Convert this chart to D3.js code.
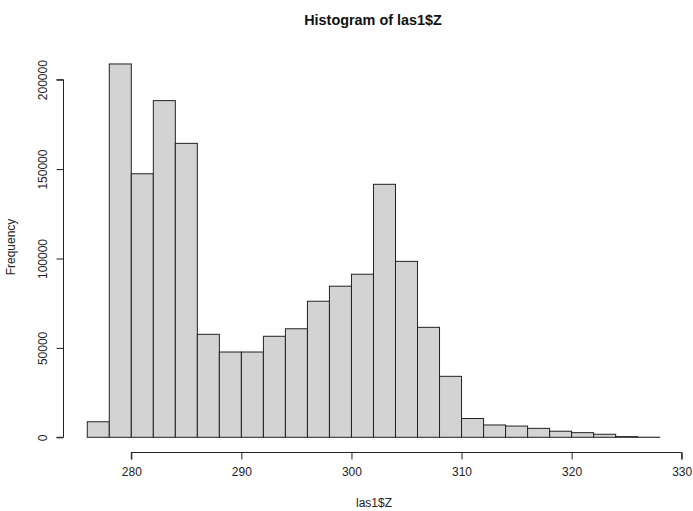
<!DOCTYPE html>
<html>
<head>
<meta charset="utf-8">
<script src="https://cdn.jsdelivr.net/npm/d3@7"></script>
<style>
  body { margin: 0; background: #fff; }
  text { font-family: "Liberation Sans", Arial, sans-serif; fill: #222; }
</style>
</head>
<body>
<svg id="chart" width="693" height="511"></svg>
<script>
var breaks = [276, 278, 280, 282, 284, 286, 288, 290, 292, 294, 296, 298, 300, 302,
  304, 306, 308, 310, 312, 314, 316, 318, 320, 322, 324, 326, 328];
var counts = [8700, 208800, 147400, 188300, 164400, 57600, 47700, 47700, 56500, 60700,
  76100, 84500, 91200, 141500, 98400, 61500, 34100, 10500, 6900, 6300, 5000, 3400,
  2600, 1700, 400, 60];
var xTicks = [280, 290, 300, 310, 320, 330];
var yTicks = [0, 50000, 100000, 150000, 200000];
var titleText = "Histogram of las1$Z";
var xLabel = "las1$Z";
var yLabel = "Frequency";

var svg = d3.select("#chart");
var x = d3.scaleLinear().domain([280, 330]).range([131.3, 681.7]);
var y = d3.scaleLinear().domain([0, 200000]).range([437.3, 79.7]);

// bars
svg.append("g").selectAll("rect")
  .data(counts)
  .enter().append("rect")
  .attr("x", function(d, i) { return x(breaks[i]); })
  .attr("y", function(d) { return y(d); })
  .attr("width", function(d, i) { return x(breaks[i + 1]) - x(breaks[i]); })
  .attr("height", function(d) { return y(0) - y(d); })
  .attr("fill", "#D3D3D3").attr("stroke", "#222").attr("stroke-width", 1);

// x axis
var xAxis = svg.append("g").attr("transform", "translate(0,452.5)")
  .call(d3.axisBottom(x).tickValues(xTicks).tickSize(7).tickPadding(8).tickFormat(d3.format("d")));
xAxis.select(".domain").attr("stroke", "#222").attr("d", "M" + x(280) + ",7V0H" + x(330) + "V7");
xAxis.selectAll(".tick line").attr("stroke", "#222");
xAxis.selectAll(".tick text").attr("font-size", 12).attr("font-family", "Liberation Sans, Arial, sans-serif").attr("fill", "#222");

// y axis
var yAxis = svg.append("g").attr("transform", "translate(63.5,0)")
  .call(d3.axisLeft(y).tickValues(yTicks).tickSize(7).tickFormat(d3.format("d")));
yAxis.select(".domain").attr("stroke", "#222").attr("d", "M-7," + y(0) + "H0V" + y(200000) + "H-7");
yAxis.selectAll(".tick line").attr("stroke", "#222");
yAxis.selectAll(".tick text")
  .attr("font-size", 12).attr("font-family", "Liberation Sans, Arial, sans-serif").attr("fill", "#222")
  .attr("x", null).attr("dy", null)
  .attr("text-anchor", "middle")
  .attr("transform", "translate(-16.5,0) rotate(-90)");

// titles
svg.append("text").text(titleText)
  .attr("x", 373).attr("y", 25).attr("text-anchor", "middle")
  .attr("font-size", 14.4).attr("font-weight", "bold").style("fill", "#111");
svg.append("text").text(xLabel)
  .attr("x", 374).attr("y", 507).attr("text-anchor", "middle").attr("font-size", 12);
svg.append("text").text(yLabel)
  .attr("transform", "translate(15,247) rotate(-90)").attr("text-anchor", "middle").attr("font-size", 12);
</script>
</body>
</html>
